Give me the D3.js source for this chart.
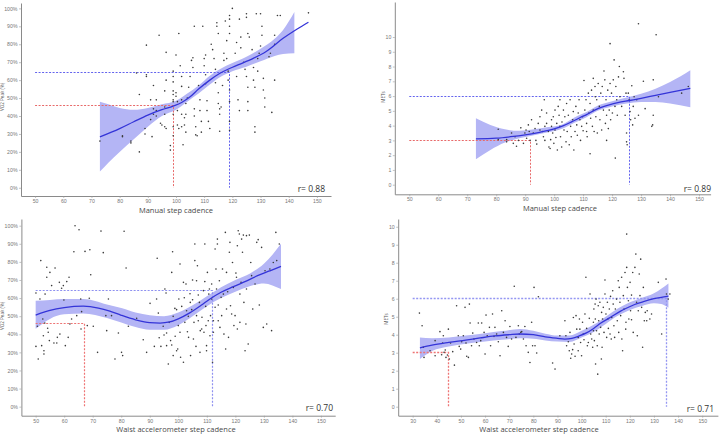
<!DOCTYPE html>
<html>
<head>
<meta charset="utf-8">
<script src="https://cdn.jsdelivr.net/npm/d3@7"></script>
<style>
  body { margin: 0; background: #fff; }
  svg { display: block; font-family: "Open Sans", "Noto Sans", sans-serif; }
</style>
</head>
<body>
<svg id="chart" width="720" height="438"></svg>
<script>
// tick values
let vo2Ticks = [0, 10, 20, 30, 40, 50, 60, 70, 80, 90, 100];
let metsTicks = [0, 1, 2, 3, 4, 5, 6, 7, 8, 9, 10];
let cadenceTicks = [50, 60, 70, 80, 90, 100, 110, 120, 130, 140, 150];
let waistMetsTicks = [30, 40, 50, 60, 70, 80, 90, 100, 110, 120, 130, 140, 150];

// --- manual step cadence vs VO2 peak (%) ---
let manualVo2Points = [[73,26],[81,29],[81,28.5],[84,26],[84,25],[87,20],[86,64],[87,52],[89.5,79.5],[89.5,63],[89.5,62],[89,33],[89,30],[91,49],[92,44],[92,41],[92,57],[94,85],[93,49],[93,43],[93,40],[94.5,36],[95,35],[91.5,28.5],[91,38],[96,34],[96.5,33],[96,41],[96,45],[96.5,75.5],[96.5,60],[96,54],[98,23.5],[98,21],[99,65],[99,62],[99,59],[99,54],[99,52],[99,49],[99,48],[99,41],[99,34],[99,29],[100,74],[100,53],[100,51],[100.5,48],[100.5,43],[100.5,35],[101,33],[101,86],[101.5,68],[102,62],[102,56.5],[102,49],[102,41],[102,34],[102.5,24],[103,39],[103,35],[103.5,41],[103.5,31],[103.5,47],[104,50],[104.5,56],[105,62],[105.5,71],[106,72.5],[106,67],[106.5,90],[106.5,44],[106.5,40],[107,34],[107,29.5],[107.5,29],[108,57],[108.5,49],[108.5,43],[109,37],[109,31],[109.5,90],[110,72],[110,68],[110.5,74],[110.5,63],[110.5,58],[111,48.5],[111,43],[111.5,37],[112,33],[112.5,80],[113,77],[113.5,72],[114,66],[114,58.5],[114.5,92],[114.5,90],[115,86],[115,53],[115,47],[115.5,44],[115.5,41],[115.5,31.5],[116,45],[116.5,57],[117,71],[117,75],[117.5,93],[118,82],[118,72],[118.5,65],[118.5,60],[119,54.5],[119,48],[119,96],[119,94],[119,90],[119,86],[119,37],[119,32],[120,100],[121,75],[121.5,81],[121.5,62],[122,49],[122.5,43],[122.5,94],[123,84],[123,78],[124,70],[124.5,66],[125,62],[125.5,56],[125.5,48],[125.5,43],[125,97],[125,95],[125.5,86],[126,84],[127,77],[127.5,67],[127.5,60],[128,56],[128,34],[128,31],[128.5,97],[129,65],[129,72],[129.5,75],[130,79],[130,97],[130.5,90],[130.5,85],[131,61],[131,54.5],[131.5,50],[131.5,45],[133,73],[133.5,75],[134,42],[135,85],[135,80],[135,60],[136,96],[137,96],[147,97.5]];
let manualVo2Fit = [[73,28.4],[80,33],[85,36.8],[90,40.5],[95,43.5],[99,45.5],[102,47.5],[105,50.7],[108,55],[112,60],[115.6,63.8],[119,66.5],[122,68.5],[127.4,72.1],[132,76],[138,83.3],[143,88.5],[147,92.3]];
let manualVo2Band = [[73,9,48],[76,14,46.5],[80,20,44.5],[85,27,43.5],[90,34,44.5],[95,40,46.5],[100,43.5,48.5],[104,48,52.5],[108,52.5,57],[112,57.5,62.5],[116,62,66.5],[120,65,69.5],[125,67.5,73],[130,70.5,77.5],[135,73.5,83],[138,74.5,88],[142,75,98]];
let manualVo2Cuts = [[99, 46], [119, 64]];   // moderate, vigorous

// --- manual step cadence vs METs ---
let manualMetsPoints = [[80.7,3.75],[80.7,3.05],[83.6,2.9],[83.6,3.05],[85.3,3.5],[85.9,2.8],[86.5,3.25],[87,2.6],[87.7,3.0],[88.5,3.85],[89.4,2.8],[89.9,3.5],[90.5,3.15],[90.3,3.7],[91.1,4.05],[91.4,3.6],[91.7,3.0],[92.2,4.4],[92.8,3.5],[93.4,3.8],[93.7,3.0],[94,2.75],[94.5,4.15],[95.1,4.6],[95.1,3.7],[95.7,5.05],[96,3.6],[96.3,3.25],[96.6,5.75],[96.8,3.95],[96.8,3.0],[97.4,4.85],[97.4,4.15],[98,3.6],[98.2,2.55],[98.6,2.45],[98.8,3.05],[99.1,4.4],[99.1,3.95],[99.5,3.5],[99.7,4.6],[99.9,2.8],[100.3,5.05],[100.3,3.7],[100.6,3.2],[100.9,4.15],[101.1,2.35],[101.4,5.3],[101.7,4.7],[102,5.75],[102,3.95],[102.2,3.25],[102.6,2.55],[102.7,4.25],[103.2,5.05],[103.4,3.7],[103.7,4.6],[104.1,2.9],[104.3,5.5],[104.5,3.6],[104.9,4.7],[105.2,2.7],[105.5,5.75],[105.7,3.95],[105.9,3.25],[106.4,4.4],[106.6,4.95],[106.8,2.35],[107.2,3.6],[107.5,5.3],[107.8,4.05],[108,3.35],[108.3,4.85],[108.6,5.75],[108.9,4.4],[109.1,3.0],[109.5,3.95],[109.8,4.6],[110,3.65],[110.3,7.05],[110.6,5.05],[111,5.75],[111.2,4.15],[111.2,3.6],[111.4,3.25],[111.8,6.2],[112,4.85],[112.4,2.1],[112.4,5.5],[112.6,4.5],[112.9,6.4],[113.2,3.95],[113.5,7.2],[113.5,5.05],[113.8,3.6],[114.1,6.65],[114.2,5.95],[114.4,4.6],[114.7,5.75],[114.9,3.5],[115.2,6.85],[115.6,5.3],[115.8,4.4],[116.1,6.2],[116.4,3.7],[116.6,6.65],[117,5.05],[117.2,7.7],[117.5,7.1],[117.7,4.15],[117.9,5.75],[118.1,4.7],[118.1,3.0],[118.5,6.4],[118.7,3.8],[119,5.05],[119.3,9.55],[119.3,6.85],[119.5,4.4],[119.8,6.2],[120.1,4.85],[120.4,7.1],[120.7,8.45],[121,5.3],[121.1,1.8],[121.3,6.65],[121.6,5.75],[121.8,4.7],[122.2,7.3],[122.5,8.0],[122.7,5.95],[123.3,5.3],[123.9,7.65],[124.1,7.2],[124.5,4.7],[124.8,6.2],[125,3.5],[125,2.9],[125.2,2.7],[125.6,6.2],[125.9,5.75],[126.2,4.95],[126.4,4.4],[126.8,6.7],[127.1,4.05],[127.3,5.3],[127.6,5.95],[127.9,4.5],[128.5,5.75],[129.1,4.7],[129.1,10.9],[130.8,7.0],[131.4,5.15],[133.7,3.95],[134.2,7.1],[134.2,4.7],[134,4.05],[135.2,10.15],[136,5.95],[144,6.2],[146.3,6.65]];
let manualMetsFit = [[73,3.1],[80,3.15],[85,3.25],[90,3.38],[95,3.55],[100,3.78],[103,3.98],[106,4.25],[109,4.55],[111.2,4.75],[114,5.05],[117,5.28],[119.3,5.42],[122,5.55],[126,5.7],[130,5.85],[135,6.05],[140,6.25],[147,6.52]];
let manualMetsBand = [[73,1.72,4.5],[78,2.35,4.05],[83,2.85,3.75],[88,3.15,3.65],[93,3.35,3.75],[98,3.55,3.9],[103,3.8,4.1],[107,4.2,4.55],[111,4.55,4.9],[115,5.0,5.35],[120,5.3,5.65],[125,5.5,5.9],[130,5.6,6.15],[135,5.6,6.5],[140,5.5,6.95],[147,5.25,7.75]];
let manualMetsCuts = [[92, 3], [126, 6]];

// --- waist accelerometer step cadence vs VO2 peak (%) ---
let waistVo2Points = [[50.1,62.8],[50.1,33.3],[50.6,44.4],[50.9,26.3],[51.5,59.5],[51.8,80.7],[52.1,33.7],[52.5,48.4],[52.7,39.2],[52.9,30.9],[52.9,29.1],[53.2,46.2],[53.3,62.2],[53.9,77],[53.9,71.5],[54.2,43.3],[54.4,41.1],[54.8,36.5],[55,74.2],[55.6,66.9],[56.4,35.2],[56.8,76.6],[57.4,35.2],[57.6,38.3],[58.3,68.7],[58.5,40.1],[59.1,65.4],[59.7,66.9],[59.9,58.9],[60.4,33.7],[60.9,69.1],[61.4,38.3],[61.7,71.5],[62,45.7],[62.6,48.4],[63.4,85.6],[63.8,100],[64.4,50.3],[65.2,97.8],[65.8,59.5],[65.9,42.9],[66.1,52.5],[67.3,85.8],[68.1,44.8],[68.8,59.9],[69,86.7],[69.3,72.9],[70.2,44.4],[71.7,30],[72.9,97],[73.7,85.1],[74.6,50.3],[74.9,42],[75.5,59.5],[76.6,50.3],[77.8,26.3],[79,40.7],[80.1,30],[80.5,28.2],[81,96.9],[81.7,76.6],[82.5,44.4],[85.4,48.8],[87.7,37],[88.9,30],[90.1,57.1],[91.6,33.3],[92.4,59.5],[92.6,82],[93,51.7],[93.3,38.1],[93.9,33.3],[94.7,44.4],[95,39.6],[95.3,65],[95.7,62.8],[95.9,40.7],[95.9,33.7],[96.5,23.6],[96.8,46.6],[97.3,36.5],[97.7,34.1],[97.7,74.2],[98,85.6],[98.2,49.9],[98.2,28.2],[98.8,54.3],[98.9,38.9],[99.4,53.6],[99.4,30.9],[99.8,31.9],[100,44.8],[100.2,59.5],[100.6,78.8],[100.6,41.1],[100.8,27.3],[101.2,55.4],[101.8,68.7],[101.8,24.5],[102.1,60.2],[102.3,46.6],[102.7,67.8],[102.9,53],[103.2,41.4],[103.5,49.9],[103.6,38.3],[104.1,62.4],[104.2,57.6],[104.3,28.2],[104.7,53.6],[105,59.1],[105,70],[105.3,37.4],[105.5,46.6],[105.8,80.7],[105.8,89.9],[106.2,33.3],[106.4,50.3],[106.4,69.6],[106.7,77.9],[107,47.5],[107,61.7],[107.4,57.6],[107.6,30],[107.7,42],[108.2,42.9],[108.3,49.4],[108.8,64.1],[109,41.1],[109.3,69.1],[109.3,89.9],[109.6,55.4],[109.7,44.8],[109.9,30.9],[109.9,33.7],[110.2,74.2],[110.5,47.5],[110.7,62.2],[110.9,65],[111.1,39.2],[111.3,50.3],[111.7,59.5],[111.7,67.8],[112,24.5],[112.3,41.1],[112.3,47.5],[112.9,54.9],[112.9,87.1],[113.2,76.1],[113.4,65],[113.7,89.9],[113.7,92.6],[114,56.2],[114,47.5],[114.4,69.6],[114.6,43.8],[115,60.4],[115.2,50.3],[115.5,76.1],[115.8,62.2],[116,40.1],[116.5,96.3],[116.6,31.9],[116.9,74.2],[116.9,54],[117.3,63.5],[117.6,38.3],[117.9,85.3],[118.1,90.8],[118.3,55.8],[118.7,51.2],[119,79.7],[119.3,65.9],[119.5,44.8],[119.9,50.3],[120.2,73.8],[120.4,71.5],[120.7,42.9],[120.7,88.9],[121,97.2],[121.4,95.4],[121.6,62.2],[121.6,46.6],[122,68.7],[122.2,92.6],[122.5,85.3],[122.8,94.8],[123,57.6],[123.4,30.9],[123.7,45.7],[123.9,94.5],[123.9,65],[124.5,34.6],[124.9,94.8],[125.4,79.7],[125.7,72.4],[126.1,54],[126.9,67.8],[127.5,90.8],[128,92.3],[128.4,56.2],[129.2,88],[129.8,43.8],[130.4,75.1],[131,45.7],[132.1,76.1],[132.7,42],[133.3,79.7],[134.2,96.3],[134.5,80.7],[135.4,89.9]];
let waistVo2Fit = [[50,50.6],[55,53.2],[60,54.7],[66.7,55.5],[72,54.5],[76,52.8],[80,50.5],[85,48],[90,46.4],[93.6,46.2],[97,46.8],[100,48.5],[104,51.8],[108,56],[111.1,59.5],[115,63.2],[119.3,66.3],[124,69.5],[128,72.5],[132,75],[136,77.5]];
let waistVo2Band = [[50,43,58.5],[55,48.5,59],[60,51,59.5],[66.7,51.5,59.5],[75,49,56.5],[80,46.5,54.5],[85,44,52],[90,42.5,50.5],[95,42.5,50],[100,45,52],[105,50,56],[110,55.5,61],[115,60,66],[120,63.5,70],[125,66.5,73.5],[130,68,79],[133,67,84],[136,65,90]];
let waistVo2Cuts = [[67, 46], [112, 64]];

// --- waist accelerometer step cadence vs METs ---
let waistMetsPoints = [[32.8,5.2],[33.9,4.5],[34.4,3.3],[34.7,2.74],[37.2,3.11],[39.3,3.67],[39.3,2.83],[41.3,4.17],[42,2.89],[42.4,3.54],[42.7,3.94],[43,3.02],[43.5,3.15],[43.8,2.74],[44.4,2.87],[44.8,4.31],[45.2,2.65],[45.7,3.54],[46.6,3.06],[47.3,2.31],[48.2,5.61],[48.9,3.94],[49.3,3.35],[49.9,3.2],[50.3,3.61],[51,3.94],[51.7,5.52],[52.1,3.54],[52.4,2.8],[53.1,2.74],[53.5,5.7],[53.8,4.65],[54.4,3.39],[54.9,4.09],[55.4,3.76],[56.5,3.57],[57.2,4.65],[57.6,3.39],[58.2,3.67],[58.6,4.65],[59.6,4.13],[60,2.93],[60.4,5.09],[60.9,3.94],[61.8,4.41],[62.3,3.39],[63.1,5.15],[63.7,3.91],[64.1,4.41],[64.8,4.04],[65.5,3.61],[66.2,2.83],[66.9,5.33],[67.6,4.13],[68.3,4.78],[68.9,3.85],[69.6,3.35],[70.3,4.46],[71,3.76],[72.1,6.69],[72.8,3.85],[73.8,4.5],[74.2,4.04],[74.8,4.13],[75.2,4.17],[75.9,3.76],[76.5,4.46],[77,3.39],[77.9,3.02],[78.6,2.46],[79.3,4.69],[79.7,3.39],[80.3,6.63],[80.7,3.39],[81.4,2.98],[82.1,6.11],[88,2.43],[89,2.09],[91,3.94],[93.1,4.78],[93.5,3.94],[93.8,3.39],[94.5,3.61],[94.9,3.11],[95.2,4.13],[95.5,2.69],[95.9,2.93],[96.3,3.17],[96.6,4.96],[96.9,3.48],[97.3,2.8],[97.7,5.06],[98,4.31],[98.6,3.85],[98.6,3.11],[99.1,4.87],[99.3,4.31],[99.6,3.57],[100,2.83],[100.4,4.69],[100.7,4.04],[101,3.72],[101.4,5.15],[101.8,7.19],[102.1,4.35],[102.4,3.39],[102.8,3.57],[103.2,4.91],[103.5,6.26],[103.8,4.04],[104.2,3.76],[104.6,3.3],[104.9,4.69],[104.9,4.22],[105.1,5.43],[105.3,3.67],[105.6,5.7],[105.7,4.87],[105.8,2.37],[106,5.98],[106.2,4.22],[106.5,3.39],[106.7,1.81],[106.9,5.61],[107.1,4.78],[107.3,4.04],[107.6,5.8],[107.9,4.41],[108.2,2.65],[108.3,5.24],[108.5,3.3],[108.7,4.87],[109,5.52],[109.3,4.13],[109.7,7.04],[109.7,6.26],[110.1,5.15],[110.4,3.85],[110.7,5.8],[110.9,4.87],[111.1,4.35],[111.5,5.43],[111.8,4.04],[112,6.13],[112.3,3.76],[112.5,4.96],[112.9,6.44],[113.1,5.7],[113.4,4.5],[113.7,3.85],[114,5.43],[114.5,5.98],[114.8,4.78],[115.2,7],[115.4,4.13],[115.6,6.63],[115.9,5.8],[116.2,5.06],[116.6,7.19],[116.7,3.76],[117,3.11],[117.3,6.17],[117.6,5.43],[118,7.46],[118.3,4.31],[118.4,4.69],[118.7,9.59],[118.7,7.74],[119,6.63],[119.4,5.89],[119.6,4.87],[120.1,6.91],[120.3,5.33],[120.7,4.83],[120.7,6.2],[121.2,7.46],[121.4,4.13],[122.1,7.74],[122.5,8.48],[122.8,5.8],[123.1,3.94],[123.5,5.33],[123.9,7.37],[124.2,6.17],[124.5,8.2],[124.9,5.52],[125.3,3.3],[125.6,6.63],[126,4.78],[126.4,5.24],[127,4.78],[127.2,5.33],[128.3,4.87],[129,5.15],[131.8,6.91],[133.2,4.04],[135,7.09],[135.2,6.26],[135.9,5.98],[136.6,6.26]];
let waistMetsFit = [[33,3.27],[38,3.42],[45,3.57],[52,3.7],[58,3.82],[64,3.93],[70,4.0],[74.5,4.04],[80,4.0],[85,3.88],[90,3.8],[93,3.76],[96,3.8],[99,3.93],[102,4.1],[105,4.35],[108,4.65],[112,4.97],[116,5.3],[119,5.5],[122,5.68],[126,5.85],[130,6.0],[136,6.15]];
let waistMetsBand = [[33,2.65,3.85],[38,3.1,3.8],[45,3.35,3.85],[52,3.5,3.95],[60,3.62,4.08],[67,3.72,4.2],[74.5,3.8,4.32],[80,3.78,4.22],[85,3.68,4.05],[90,3.62,3.95],[95,3.6,3.95],[100,3.85,4.22],[105,4.15,4.55],[110,4.6,5.0],[115,5.05,5.45],[120,5.38,5.8],[125,5.6,6.05],[130,5.75,6.3],[133,5.7,6.55],[136,5.5,6.85]];
let waistMetsCuts = [[45, 3], [135, 6]];

let svg = d3.select("#chart");
svg.append("rect").attr("width", 720).attr("height", 438).attr("fill", "#fff");

// snap to pixel centre so thin dashed guides stay crisp
let crisp = v => Math.round(v - 0.5) + 0.5;

function drawPanel(p) {
    let x = d3.scaleLinear().domain(p.xDomain).range(p.xRange);
    let y = d3.scaleLinear().domain(p.yDomain).range(p.yRange);
    let g = svg.append("g");

    // confidence band
    let area = d3.area()
        .x(d => x(d[0]))
        .y0(d => y(d[1]))
        .y1(d => y(d[2]))
        .curve(d3.curveMonotoneX);
    g.append("path").datum(p.band)
        .attr("d", area)
        .attr("fill", "#b4b5f5");

    // threshold guides: moderate (red) then vigorous (blue)
    let colors = [p.redColor, p.blueColor];
    p.cuts.forEach(function (c, i) {
        let path = "M" + x(p.xStart) + "," + crisp(y(c[1])) + "H" + crisp(x(c[0])) + "V" + y(0);
        g.append("path")
            .attr("d", path)
            .attr("fill", "none")
            .attr("stroke", colors[i])
            .attr("stroke-width", p.guideWidth)
            .attr("stroke-dasharray", "2,1.5");
    });

    // points
    g.append("g").selectAll("circle").data(p.points).enter().append("circle")
        .attr("cx", d => x(d[0]))
        .attr("cy", d => y(d[1]))
        .attr("r", 0.8)
        .attr("fill", "#3a3a3a");

    // smooth fit
    let line = d3.line().x(d => x(d[0])).y(d => y(d[1])).curve(d3.curveMonotoneX);
    g.append("path").datum(p.fit)
        .attr("d", line)
        .attr("fill", "none")
        .attr("stroke", "#3434d8")
        .attr("stroke-width", 1.3);

    // axes
    let xAxis = d3.axisBottom(x).tickValues(p.xTicks).tickSize(2).tickSizeOuter(0).tickPadding(1.5);
    let xg = g.append("g").attr("transform", "translate(0," + p.yRange[0] + ")").call(xAxis);
    let yAxis = d3.axisLeft(y).tickValues(p.yTicks).tickFormat(p.yFormat)
        .tickSize(2).tickSizeOuter(0).tickPadding(1.5);
    let yg = g.append("g").attr("transform", "translate(" + p.xRange[0] + ",0)").call(yAxis);

    [xg, yg].forEach(function (a) {
        a.select(".domain").attr("stroke", "#8a8a8a").attr("stroke-width", 1);
        a.selectAll(".tick line").attr("stroke", "#9a9a9a").attr("stroke-width", 0.6);
        a.selectAll(".tick text").attr("fill", "#777").style("font-size", "5.2px");
    });

    // titles
    g.append("text")
        .attr("x", p.xTitlePos[0]).attr("y", p.xTitlePos[1])
        .attr("text-anchor", "middle")
        .attr("fill", "#4a4a4a")
        .style("font-size", "7.5px")
        .text(p.xTitle);
    g.append("text")
        .attr("transform", "translate(" + p.yTitlePos[0] + "," + p.yTitlePos[1] + ") rotate(-90)")
        .attr("text-anchor", "middle")
        .attr("fill", "#555")
        .style("font-size", "4.6px")
        .text(p.yTitle);
    g.append("text")
        .attr("x", p.rPos[0]).attr("y", p.rPos[1])
        .attr("text-anchor", "end")
        .attr("fill", "#333")
        .style("font-size", "8.5px")
        .text(p.rLabel);
}

let pct = d => d + "%";
let plain = d => d;

drawPanel({
    points: manualVo2Points, fit: manualVo2Fit, band: manualVo2Band, cuts: manualVo2Cuts,
    xDomain: [45, 155], xRange: [21, 331], yDomain: [-4.6, 103], yRange: [196, 3],
    xTicks: cadenceTicks, yTicks: vo2Ticks, yFormat: pct, xStart: 50,
    redColor: "#e86a6a", blueColor: "#6464ee", guideWidth: 1,
    xTitle: "Manual step cadence", xTitlePos: [176, 212.5],
    yTitle: "VO2 Peak (%)", yTitlePos: [4, 97], rLabel: "r= 0.88", rPos: [325, 192]
});
drawPanel({
    points: manualMetsPoints, fit: manualMetsFit, band: manualMetsBand, cuts: manualMetsCuts,
    xDomain: [45, 154], xRange: [394.8, 710.6], yDomain: [-0.65, 12.37], yRange: [194.3, 2],
    xTicks: cadenceTicks, yTicks: metsTicks, yFormat: plain, xStart: 50,
    redColor: "#e86a6a", blueColor: "#6464ee", guideWidth: 1,
    xTitle: "Manual step cadence", xTitlePos: [560, 210.5],
    yTitle: "METs", yTitlePos: [385, 97], rLabel: "r= 0.89", rPos: [711, 192]
});
drawPanel({
    points: waistVo2Points, fit: waistVo2Fit, band: waistVo2Band, cuts: waistVo2Cuts,
    xDomain: [45, 155], xRange: [21.4, 335.2], yDomain: [-5, 103.7], yRange: [415.7, 219],
    xTicks: cadenceTicks, yTicks: vo2Ticks, yFormat: pct, xStart: 50,
    redColor: "#ee7474", blueColor: "#8e90f0", guideWidth: 1.2,
    xTitle: "Waist accelerometer step cadence", xTitlePos: [176, 432],
    yTitle: "VO2 Peak (%)", yTitlePos: [4, 316], rLabel: "r= 0.70", rPos: [333, 411]
});
drawPanel({
    points: waistMetsPoints, fit: waistMetsFit, band: waistMetsBand, cuts: waistMetsCuts,
    xDomain: [24, 156.5], xRange: [398.2, 717.9], yDomain: [-0.5, 10.43], yRange: [415.7, 219],
    xTicks: waistMetsTicks, yTicks: metsTicks, yFormat: plain, xStart: 30,
    redColor: "#ee7474", blueColor: "#9496f2", guideWidth: 1.3,
    xTitle: "Waist accelerometer step cadence", xTitlePos: [539, 431.5],
    yTitle: "METs", yTitlePos: [388, 319], rLabel: "r= 0.71", rPos: [714, 412]
});
</script>
</body>
</html>
